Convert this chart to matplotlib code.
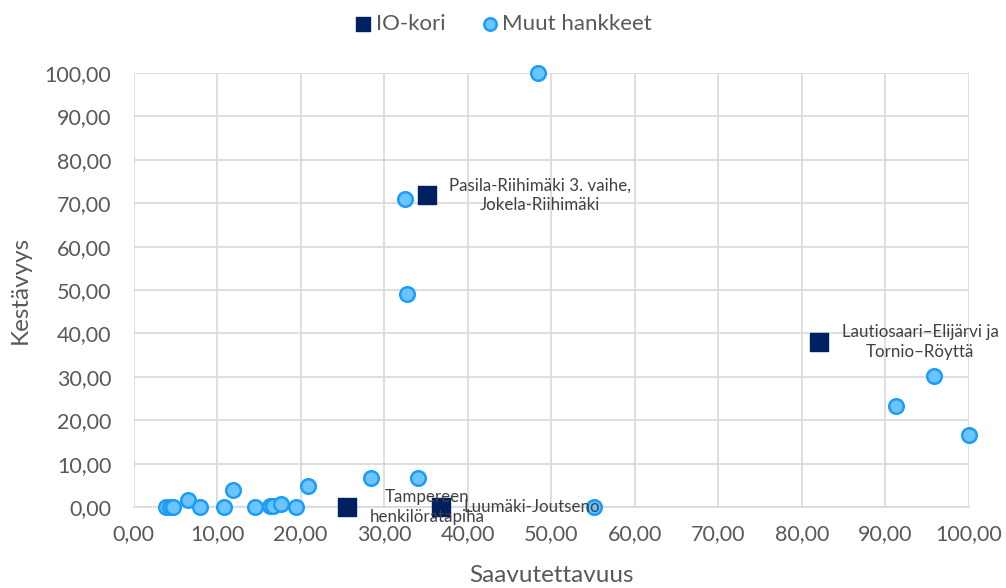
import matplotlib.pyplot as plt
from matplotlib.ticker import FuncFormatter, MultipleLocator

plt.rcParams['font.family'] = ['Lato', 'DejaVu Sans']

# IO-kori hankkeet
io_x = [35.1, 82.1, 25.6, 36.8]
io_y = [71.9, 38.0, 0.0, 0.0]
io_labels = ["Pasila-Riihimäki 3. vaihe,\nJokela-Riihimäki",
             "Lautiosaari–Elijärvi ja\nTornio–Röyttä",
             "Tampereen\nhenkilöratapiha",
             "Luumäki-Joutseno"]

# Muut hankkeet
muut_x = [48.4, 32.5, 32.7, 95.8, 91.3, 100.0, 55.1, 34.0, 28.4, 20.9,
          11.9, 6.5, 3.9, 4.4, 4.7, 8.0, 10.8, 14.6, 16.3, 16.7, 17.6, 19.4]
muut_y = [100.0, 71.0, 49.1, 30.2, 23.3, 16.6, 0.0, 6.7, 6.7, 4.8,
          3.9, 1.6, 0.0, 0.0, 0.0, 0.0, 0.0, 0.0, 0.2, 0.3, 0.6, 0.0]

txt = '#595959'
fig = plt.figure(figsize=(10.06, 5.88), dpi=100)
ax = fig.add_axes([133.5 / 1006, 1 - 507 / 588, (969 - 133.5) / 1006, (507 - 73) / 588])

ax.scatter(muut_x, muut_y, s=110, marker='o', facecolor='#6CC4FF', edgecolor='#1A9EF5',
           linewidth=1.8, zorder=3, label='Muut hankkeet', clip_on=False)
ax.scatter(io_x, io_y, s=150, marker='s', color='#002060', zorder=4, label='IO-kori',
           clip_on=False)

for x, y, lab in zip(io_x, io_y, io_labels):
    ax.annotate(lab, (x, y), xytext=(16, 0), textcoords='offset points', ha='left',
                va='center', multialignment='center', fontsize=12.2, color='#404040',
                zorder=5, linespacing=1.25)

ax.set_xlim(0, 100)
ax.set_ylim(0, 100)
ax.xaxis.set_major_locator(MultipleLocator(10))
ax.yaxis.set_major_locator(MultipleLocator(10))
fmt = FuncFormatter(lambda v, p: f"{v:.2f}".replace('.', ','))
ax.xaxis.set_major_formatter(fmt)
ax.yaxis.set_major_formatter(fmt)
ax.grid(True, color='#D9D9D9', linewidth=1.2, zorder=0)
ax.set_axisbelow(True)
for s in ax.spines.values():
    s.set_visible(False)
ax.spines['bottom'].set_visible(True)
ax.spines['bottom'].set_color('#D9D9D9')
ax.spines['bottom'].set_linewidth(1.2)
ax.tick_params(length=0, labelsize=15.5, colors=txt)
ax.tick_params(axis='x', pad=12)
ax.tick_params(axis='y', pad=16)

ax.set_xlabel('Saavutettavuus', fontsize=17.5, color=txt, labelpad=15)
ax.set_ylabel('Kestävyys', fontsize=17.5, color=txt, labelpad=10)

handles, labels = ax.get_legend_handles_labels()
fig.legend(handles[::-1], labels[::-1], loc='upper center', bbox_to_anchor=(0.5, 1.01),
           ncol=2, frameon=False, fontsize=16, labelcolor=txt, handletextpad=0.15,
           handlelength=0.8, columnspacing=1.6, markerscale=0.85)

fig.savefig('out.png', dpi=100)
